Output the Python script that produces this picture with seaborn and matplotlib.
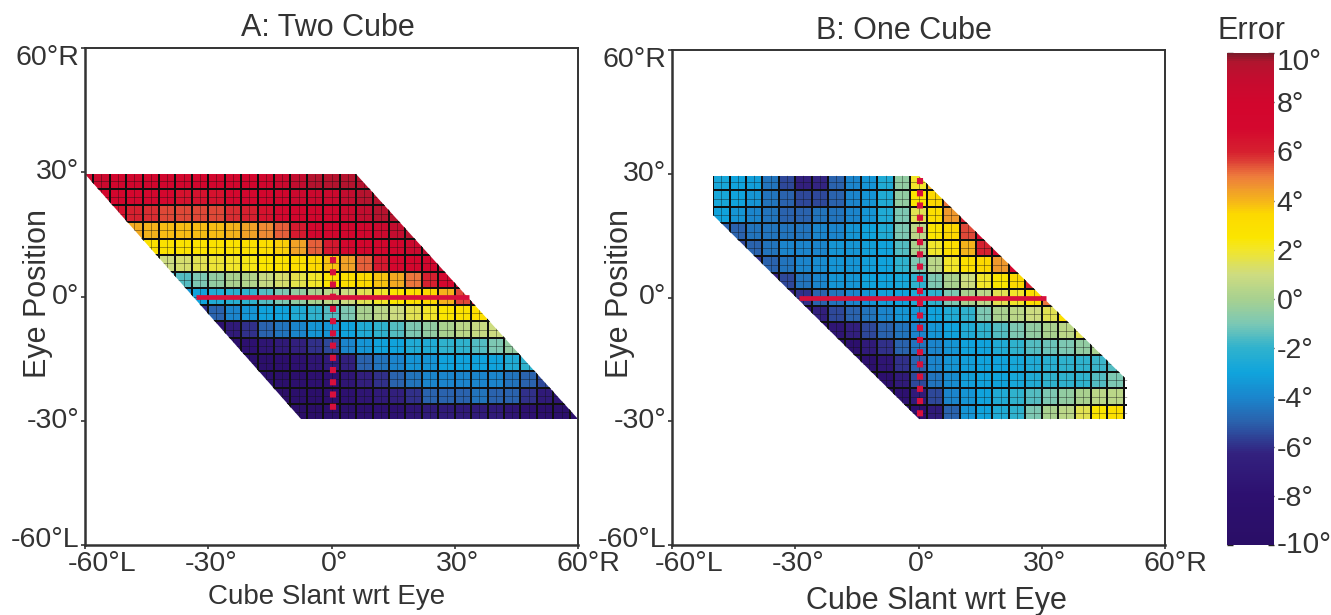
import numpy as np
import matplotlib
matplotlib.use('Agg')
import matplotlib.pyplot as plt
from matplotlib.colors import LinearSegmentedColormap
from matplotlib.patches import Polygon
from matplotlib.transforms import ScaledTranslation
import seaborn as sns

# cell centres: slant -60..60, eye 28..-28, 4 deg cells
slant_centres = [-60, -56, -52, -48, -44, -40, -36, -32, -28, -24, -20, -16, -12, -8, -4, 0,
                 4, 8, 12, 16, 20, 24, 28, 32, 36, 40, 44, 48, 52, 56, 60]
eye_centres = [28, 24, 20, 16, 12, 8, 4, 0, -4, -8, -12, -16, -20, -24, -28]

# first filled column of each row, then the values
a_first = [0, 1, 2, 3, 3, 4, 5, 6, 7, 8, 9, 10, 10, 11, 12]
a_rows = [
    [8.5, 8.5, 8, 8, 8, 8, 7.5, 7.5, 7.5, 7.5, 7.5, 8, 8.5, 9, 9.5, 9.5, 9.5, 9.5],
    [7.5, 7.5, 7, 7, 7, 6.5, 6.5, 6.5, 7, 7, 7.5, 8, 8.5, 8.5, 8.5, 9, 9.5, 9.5],
    [6.5, 6, 5.8, 5.5, 5.5, 5.5, 5.5, 5.8, 6, 6.5, 7, 7.5, 8, 8, 8.5, 9, 9.5, 9.5],
    [4.2, 4, 3.9, 3.9, 3.9, 3.9, 4, 4.3, 4.7, 5.3, 6.2, 7, 7.5, 7.5, 8, 8.5, 9, 9.5],
    [3, 2.9, 2.8, 2.8, 2.8, 2.8, 2.8, 3, 3.2, 3.6, 4.3, 5.3, 6.3, 7, 7.5, 7.5, 8, 8.5, 9],
    [1, 1, 1.2, 1.5, 1.8, 2, 2.2, 2.5, 2.8, 3, 3.3, 3.8, 4.3, 5.3, 6.3, 7, 7.5, 8, 9],
    [-2, -1.5, -1, -0.5, 0, 0.3, 0.8, 1.2, 1.6, 2, 2.5, 3, 3.4, 3.8, 4.2, 5, 6, 7, 8.5],
    [-3.5, -3, -2.5, -2.2, -2, -1.5, -1, -0.5, 0, 0.5, 1, 1.5, 2, 2.5, 3, 3.5, 4, 5.5, 7],
    [-6, -5, -4, -3.5, -3, -3, -2.5, -2, -1.5, -1, 0, 0.5, 1, 1.5, 2, 2.5, 2.8, 3, 3],
    [-8, -7, -6, -5, -4.5, -4, -3.5, -3.5, -3, -2.5, -2, -1.5, -1, -0.5, 0, 0.5, 0.8, 1, 1.5],
    [-8.5, -8, -7.5, -7, -6.5, -6, -5.5, -4, -3.5, -3, -3, -2.5, -2.5, -2, -2, -1.5, -1, -0.5],
    [-9, -9, -8.5, -8, -7.5, -7, -6.5, -5, -4.5, -4, -3.5, -3.5, -3, -3, -3, -3, -2.5, -2],
    [-9, -9, -9, -8.5, -8, -8, -7.5, -6.5, -6, -5, -4.5, -4, -4, -4, -4, -4, -4.5, -5, -5.5],
    [-9.5, -9.5, -9, -9, -8.5, -8, -7.5, -7, -6.5, -6, -5, -5, -5, -4.5, -5, -5, -6, -7, -7.5],
    [-9.5, -9.5, -9.5, -9, -9, -8.5, -8, -8, -7.5, -7, -7, -7, -7, -7, -7.5, -8, -8.5, -9, -9],
]

b_first = [3, 3, 3, 3, 4, 5, 6, 7, 8, 9, 10, 11, 12, 13, 14]
b_rows = [
    [-2.8, -3, -3.2, -4.5, -5.5, -6.5, -6.2, -5, -4, -3.5, -2.5, -0.5, 2, 4],
    [-2.8, -3, -3.5, -4.5, -5, -5.5, -5.5, -5, -4, -3.5, -2.5, -0.5, 2.5, 3.5, 5],
    [-3, -3.5, -4, -4.5, -5, -5, -4.5, -4.5, -4, -3.5, -2.5, -1, 1.5, 3, 4.5, 6],
    [-5, -5, -4.5, -4.5, -4.5, -4.5, -4, -4, -3.5, -3, -2.5, -1, 0.5, 2.5, 3.5, 5.5, 7],
    [-5.5, -5, -4.5, -4, -4, -4, -3.5, -3.5, -3.2, -3, -1.5, 0, 2, 3, 4, 6, 8],
    [-6, -5, -4.5, -4, -3.8, -3.5, -3.5, -3.2, -3, -2, -1, 0.5, 2, 3, 3.5, 4.5, 7],
    [-6.5, -5.5, -4.5, -4, -3.5, -3.5, -3, -3, -2.8, -2, -1, 0, 1, 2, 2.5, 3.5, 6],
    [-7, -6, -5, -4.5, -4, -3.5, -3.2, -3, -2.5, -2, -1, 0, 0.5, 1.5, 2, 3, 5],
    [-8, -6.5, -5.5, -5, -4.5, -4, -3.5, -3.5, -3, -2.5, -2, -1, 0, 0.5, 1, 1.5, 3],
    [-8.5, -7.5, -6.5, -5.5, -5, -4.5, -4, -3.5, -3, -2.5, -2, -1.5, -1, -0.5, 0, 0.5, 1.5],
    [-9, -8.5, -7, -6, -5, -4.5, -4, -3.5, -3, -3, -2.5, -2, -1.5, -1.2, -1, -0.5, 0],
    [-9, -8.5, -7.5, -6, -5, -4, -3.5, -3.2, -3, -3, -2.8, -2.5, -2.2, -2, -2, -1.8, -1.5],
    [-9, -8.5, -7, -5.5, -4.5, -3.8, -3.2, -3, -3, -2.8, -2.5, -2, -2, -2, -1.5, -1],
    [-8.5, -8, -7, -5.5, -4, -3.5, -3, -2.5, -2, -1.5, -1, -0.5, 0, 0.5, 0.5],
    [-8.5, -8.5, -7, -5, -3.5, -3, -2.5, -2, -1, 0, 0.5, 1.5, 2.5, 3],
]

# outline of the tested range (slant, eye)
a_outline = [(-60, 29.5), (6, 29.5), (60, -29.5), (-7.5, -29.5)]
b_outline = [(-50, 29.5), (0, 29.5), (50.8, -20), (50.8, -29.5), (0, -29.5), (-50, 20)]

# red reference lines: slant range at eye 0, eye range at slant 0
a_red_h = (-33, 33.5)
a_red_v = (9.5, -28)
b_red_h = (-29, 31)
b_red_v = (29, -29)
RED_V_SLANT = 0.4

axis_ticks = [-60, -30, 0, 30, 60]
x_ticklabels = ['-60°L', '-30°', '0°', '30°', '60°R']
y_ticklabels = ['-60°L', '-30°', '0°', '30°', '60°R']
cbar_ticks = [-10, -8, -6, -4, -2, 0, 2, 4, 6, 8, 10]
cbar_labels = ['-10°', '-8°', '-6°', '-4°', '-2°', '0°', '2°', '4°', '6°', '8°', '10°']

cmap_stops = [(-10, '#2a0e66'), (-8, '#2d1070'), (-6.3, '#33217f'), (-5, '#2a62ad'),
              (-4, '#1a86cd'), (-3, '#10a4dc'), (-2, '#2fb2ce'), (-1, '#7cc8b4'),
              (0, '#a8d190'), (1, '#cedc80'), (2, '#f2e62a'), (2.5, '#fbe600'),
              (3.5, '#fcd800'), (4, '#f5b51a'), (4.5, '#f09a2c'), (5, '#ee7c3c'),
              (5.5, '#e04a38'), (6, '#d6202f'), (7, '#d4072e'), (8, '#d2062d'),
              (9, '#c40c2f'), (9.7, '#b0152e'), (10, '#7e1a2a')]
error_cmap = LinearSegmentedColormap.from_list(
    'error', [((v + 10) / 20, c) for v, c in cmap_stops], N=256)

INK = '#333333'
RED = '#d8103c'
TICK_FS = 20.5
LABEL_FS = 22


def to_x(slant):
    return (slant + 62) / 4


def to_y(eye):
    return (30 - eye) / 4


def to_grid(first, rows):
    grid = np.full((len(eye_centres), len(slant_centres)), np.nan)
    for i, (k, row) in enumerate(zip(first, rows)):
        grid[i, k:k + len(row)] = row
    return grid


def shift(label, dx, dy):
    label.set_transform(label.get_transform() + ScaledTranslation(dx / 100, dy / 100, fig.dpi_scale_trans))


sns.set_style('white')
plt.rcParams['font.family'] = ['Liberation Sans', 'DejaVu Sans']

W, H = 1331, 615
fig = plt.figure(figsize=(W / 100, H / 100), dpi=100)


def px_axes(x0, x1, top, bottom):
    return fig.add_axes([x0 / W, 1 - bottom / H, (x1 - x0) / W, (bottom - top) / H])


ax_a = px_axes(85, 578, 48, 545)
ax_b = px_axes(672, 1165, 50, 545)
cax = px_axes(1227, 1274, 53, 545)

panels = [
    (ax_a, a_first, a_rows, a_outline, a_red_h, a_red_v),
    (ax_b, b_first, b_rows, b_outline, b_red_h, b_red_v),
]

for ax, first, rows, outline, red_h, red_v in panels:
    sns.heatmap(to_grid(first, rows), ax=ax, cmap=error_cmap, vmin=-10, vmax=10,
                cbar=ax is ax_a, cbar_ax=cax if ax is ax_a else None,
                linewidths=1.1, linecolor='#101010', square=False)
    outline_px = [(to_x(s), to_y(e)) for s, e in outline]
    ax.collections[0].set_clip_path(Polygon(outline_px, closed=True, transform=ax.transData))

    # thin lines through the cell middles
    xs = [to_x(s) for s in slant_centres]
    ys = [to_y(e) for e in eye_centres]
    thin_v = ax.vlines(xs, 0, len(eye_centres), color='#101010', lw=0.7, alpha=0.4)
    thin_h = ax.hlines(ys, 0, len(slant_centres), color='#101010', lw=0.7, alpha=0.4)
    thin_v.set_clip_path(Polygon(outline_px, closed=True, transform=ax.transData))
    thin_h.set_clip_path(Polygon(outline_px, closed=True, transform=ax.transData))

    ax.plot([to_x(red_h[0]), to_x(red_h[1])], [to_y(0), to_y(0)], color=RED, lw=3.4,
            solid_capstyle='butt')
    ax.plot([to_x(RED_V_SLANT), to_x(RED_V_SLANT)], [to_y(red_v[0]), to_y(red_v[1])], color=RED, lw=4.4,
            linestyle=(0, (1, 1.0)))

    ax.set_xlim(to_x(-60), to_x(60))
    ax.set_ylim(to_y(-60), to_y(60))
    ax.set_xticks([to_x(t) for t in axis_ticks])
    ax.set_xticklabels(x_ticklabels, rotation=0, fontsize=TICK_FS, color=INK)
    ax.set_yticks([to_y(t) for t in axis_ticks])
    ax.set_yticklabels(y_ticklabels, rotation=0, fontsize=TICK_FS, color=INK)
    ax.tick_params(axis='both', length=3, width=1.2, color=INK, pad=1, left=True, bottom=True)
    for spine in ax.spines.values():
        spine.set_visible(True)
        spine.set_linewidth(1.4)
        spine.set_color(INK)
    ax.spines['left'].set_linewidth(1.8)
    ax.spines['bottom'].set_linewidth(1.8)

    xlabels = ax.get_xticklabels()
    shift(xlabels[0], 17, 0)
    shift(xlabels[-1], 10, 0)
    for lab in xlabels[1:-1]:
        shift(lab, 3, 0)
    ylabels = ax.get_yticklabels()
    shift(ylabels[0], 0, 5)
    shift(ylabels[-1], 0, -10)

fig.text(328 / W, 1 - 28 / H, 'A: Two Cube', ha='center', va='center', fontsize=LABEL_FS, color=INK)
fig.text(904 / W, 1 - 31 / H, 'B: One Cube', ha='center', va='center', fontsize=LABEL_FS, color=INK)
fig.text(327 / W, 1 - 597 / H, 'Cube Slant wrt Eye', ha='center', va='center', fontsize=20, color=INK)
fig.text(936 / W, 1 - 601 / H, 'Cube Slant wrt Eye', ha='center', va='center', fontsize=LABEL_FS, color=INK)
fig.text(38 / W, 1 - 293 / H, 'Eye Position', rotation=90, ha='center', va='center', fontsize=LABEL_FS, color=INK)
fig.text(620 / W, 1 - 293 / H, 'Eye Position', rotation=90, ha='center', va='center', fontsize=LABEL_FS, color=INK)
fig.text(1251 / W, 1 - 31 / H, 'Error', ha='center', va='center', fontsize=LABEL_FS, color=INK)

cbar = ax_a.collections[0].colorbar
cbar.set_ticks(cbar_ticks)
cbar.set_ticklabels(cbar_labels)
cbar.outline.set_visible(False)
cax.tick_params(axis='y', direction='in', length=4, width=1, color='#222222',
                left=True, right=True, labelsize=TICK_FS, labelcolor=INK, pad=2)
cb_labels = cax.get_yticklabels()
cb_labels[0].set_fontsize(21.5)
cb_labels[-1].set_fontsize(21.5)
shift(cb_labels[-1], 0, -6)
shift(cb_labels[0], 0, 3)

fig.savefig('out.png', dpi=100)
